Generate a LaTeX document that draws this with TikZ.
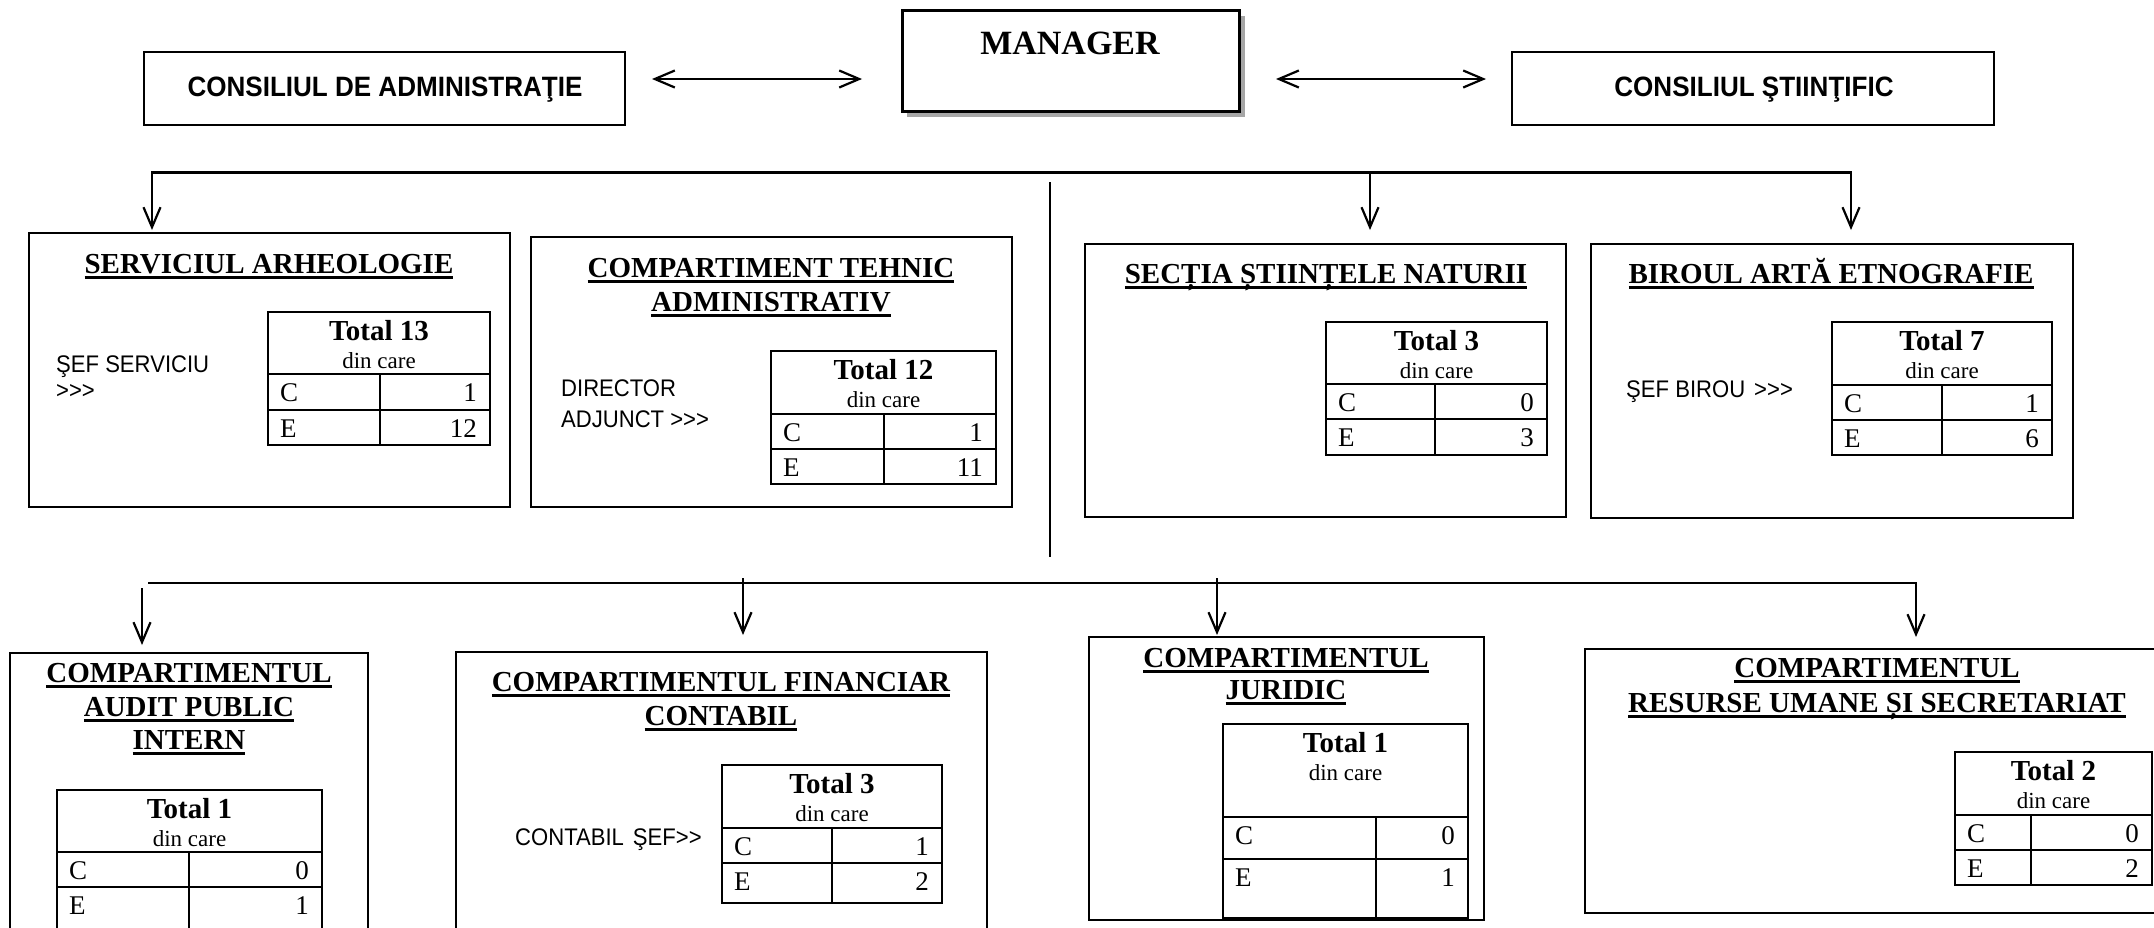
\documentclass[tikz,border=0pt]{standalone}
\usepackage{fontspec}
\setmainfont{Liberation Serif}
\newfontfamily\sansf[FakeStretch=0.92]{Liberation Sans}
\newfontfamily\sansb[FakeStretch=0.93]{Liberation Sans}
\usetikzlibrary{arrows.meta}
\newcommand\ulx[1]{\setbox0=\hbox{#1}\rlap{\rule[-5.7pt]{\wd0}{2.8pt}}\box0}
\newcommand\gtt{>\kern0pt>\kern0pt>}
\newcommand\orgbox[5]{\node[box, minimum width={#4-#2}, minimum height={#5-#3}] (#1) at ({(#2+#4)/2},{(#3+#5)/2}) {};}
\newcommand\tbgeom[7]{\def\tXa{#1}\def\tYa{#2}\def\tXb{#3}\def\tYb{#4}\def\tYh{#5}\def\tYc{#6}\def\tXc{#7}}
\def\celloff{27}
\newcommand\stafftable[4]{%
  \draw[tline] (\tXa,\tYa) rectangle (\tXb,\tYb) (\tXa,\tYh) -- (\tXb,\tYh) (\tXa,\tYc) -- (\tXb,\tYc) (\tXc,\tYh) -- (\tXc,\tYb);
  \node[tot] (#1-tot) at ({(\tXa+\tXb)/2},\tYa+28) {Total #2};
  \node[dcare] (#1-dc) at ({(\tXa+\tXb)/2},\tYa+56) {din care};
  \node[cellL] (#1-c) at (\tXa+12,\tYh+\celloff) {C};
  \node[cellL] (#1-e) at (\tXa+12,\tYc+\celloff) {E};
  \node[cellR] (#1-cv) at (\tXb-13,\tYh+\celloff) {#3};
  \node[cellR] (#1-ev) at (\tXb-13,\tYc+\celloff) {#4};
}
\begin{document}
\begin{tikzpicture}[x=1pt,y=-1pt,
  box/.style={draw, line width=2.4pt, inner sep=0pt, fill=white},
  ttl/.style={font=\fontsize{29}{33}\selectfont\bfseries, inner sep=0pt, anchor=base},
  topt/.style={font=\sansb\bfseries\fontsize{28}{30}\selectfont, inner sep=0pt, anchor=base},
  lbl/.style={font=\sansf\fontsize{24}{26}\selectfont, inner sep=0pt, anchor=base west},
  tot/.style={font=\fontsize{29}{32}\selectfont\bfseries, inner sep=0pt, anchor=base},
  dcare/.style={font=\fontsize{23}{26}\selectfont, inner sep=0pt, anchor=base},
  cellL/.style={font=\fontsize{27}{30}\selectfont, inner sep=0pt, anchor=base west},
  cellR/.style={font=\fontsize{27}{30}\selectfont, inner sep=0pt, anchor=base east},
  tline/.style={line width=2pt},
  conn/.style={line width=2.2pt, -{Straight Barb[length=20pt,width=17pt]}},
  biconn/.style={line width=2.2pt, {Straight Barb[length=20pt,width=17pt]}-{Straight Barb[length=20pt,width=17pt]}},
  plain/.style={line width=2.2pt},
]
\useasboundingbox (0,0) rectangle (2154,927);
\clip (0,0) rectangle (2154,927);
\fill[white] (0,0) rectangle (2154,927);

% ---- top row
\orgbox{ca}{144}{52}{625}{125}
\node[topt] (cat) at (385,96) {CONSILIUL DE ADMINISTRAŢIE};
\fill[gray!70] (907,16) rectangle (1245,117);
\node[box, line width=3pt, minimum width=337, minimum height=101] (mgr) at (1070.5,60.5) {};
\node[ttl, font=\fontsize{34}{38}\selectfont\bfseries] (mgrt) at (1070,54) {MANAGER};
\orgbox{cs}{1512}{52}{1994}{125}
\node[topt] (cst) at (1754,96) {CONSILIUL ŞTIINŢIFIC};
\coordinate (a1) at (652,79); \coordinate (a2) at (862,79);
\coordinate (a3) at (1276,79); \coordinate (a4) at (1486,79);
\draw[biconn] (a1) -- (a2);
\draw[biconn] (a3) -- (a4);

% ---- second row boxes
\orgbox{sa}{29}{233}{510}{507}
\orgbox{th}{531}{237}{1012}{507}
\orgbox{sn}{1085}{244}{1566}{517}
\orgbox{ba}{1591}{244}{2073}{518}

% ---- top bus
\coordinate (busL) at (152,172.5); \coordinate (busR) at (1851,172.5); \coordinate (busM) at (1370,172.5);
\coordinate (saIn) at (152,230); \coordinate (snIn) at (1370,230); \coordinate (baIn) at (1851,230);
\draw[biconn] (saIn) -- (busL) -- (busR) -- (baIn);
\draw[conn] (busM) -- (snIn);
\coordinate (vTop) at (1050,182); \coordinate (vBot) at (1050,557);
\draw[plain] (vTop) -- (vBot);

% ---- titles second row
\node[ttl] (sa-t) at (269,273) {\ulx{SERVICIUL ARHEOLOGIE}};
\node[ttl] (th-t1) at (771,277) {\ulx{COMPARTIMENT TEHNIC}};
\node[ttl] (th-t2) at (771,311) {\ulx{ADMINISTRATIV}};
\node[ttl] (sn-t) at (1326,283) {\ulx{SECȚIA ȘTIINȚELE NATURII}};
\node[ttl] (ba-t) at (1831,283) {\ulx{BIROUL ARTĂ ETNOGRAFIE}};

\node[lbl] (sa-l1) at (56,372) {ŞEF SERVICIU};
\node[lbl] (sa-l2) at (56,398) {\gtt};
\node[lbl] (th-l1) at (561,396) {DIRECTOR};
\node[lbl] (th-l2) at (561,427) {ADJUNCT \gtt};
\node[lbl] (ba-l) at (1626,397) {ŞEF BIROU\hspace{9pt}\gtt};

\tbgeom{268}{312}{490}{445}{374}{410}{380}\stafftable{sa-tb}{13}{1}{12}
\tbgeom{771}{351}{996}{484}{414}{449}{884}\stafftable{th-tb}{12}{1}{11}
\tbgeom{1326}{322}{1547}{455}{384}{419}{1435}\stafftable{sn-tb}{3}{0}{3}
\tbgeom{1832}{322}{2052}{455}{385}{420}{1942}\stafftable{ba-tb}{7}{1}{6}

% ---- bottom bus
\coordinate (bbL) at (148,583); \coordinate (bbR) at (1916,583);
\coordinate (ruIn) at (1916,637);
\draw[conn] (bbL) -- (bbR) -- (ruIn);
\coordinate (auTop) at (142,588); \coordinate (auIn) at (142,645);
\coordinate (fcTop) at (743,578); \coordinate (fcIn) at (743,635);
\coordinate (juTop) at (1217,578); \coordinate (juIn) at (1217,635);
\draw[conn] (auTop) -- (auIn);
\draw[conn] (fcTop) -- (fcIn);
\draw[conn] (juTop) -- (juIn);

% ---- bottom row boxes
\orgbox{au}{10}{653}{368}{960}
\orgbox{fc}{456}{652}{987}{960}
\orgbox{ju}{1089}{637}{1484}{920}
\orgbox{ru}{1585}{649}{2180}{913}

\node[ttl] (au-t1) at (189,682) {\ulx{COMPARTIMENTUL}};
\node[ttl] (au-t2) at (189,716) {\ulx{AUDIT PUBLIC}};
\node[ttl] (au-t3) at (189,749) {\ulx{INTERN}};
\node[ttl] (fc-t1) at (721,691) {\ulx{COMPARTIMENTUL FINANCIAR}};
\node[ttl] (fc-t2) at (721,725) {\ulx{CONTABIL}};
\node[ttl] (ju-t1) at (1286,667) {\ulx{COMPARTIMENTUL}};
\node[ttl] (ju-t2) at (1286,699) {\ulx{JURIDIC}};
\node[ttl] (ru-t1) at (1877,677) {\ulx{COMPARTIMENTUL}};
\node[ttl] (ru-t2) at (1877,712) {\ulx{RESURSE UMANE ȘI SECRETARIAT}};

\node[lbl] (fc-l) at (515,845) {CONTABIL\hspace{9pt}ŞEF>\kern0pt>};

\tbgeom{57}{790}{322}{950}{852}{887}{189}\stafftable{au-tb}{1}{0}{1}
\tbgeom{722}{765}{942}{903}{828}{863}{832}\stafftable{fc-tb}{3}{1}{2}
\tbgeom{1223}{724}{1468}{918}{817}{859}{1376}\stafftable{ju-tb}{1}{0}{1}
\tbgeom{1955}{752}{2152}{885}{815}{850}{2031}\stafftable{ru-tb}{2}{0}{2}
\end{tikzpicture}
\end{document}
